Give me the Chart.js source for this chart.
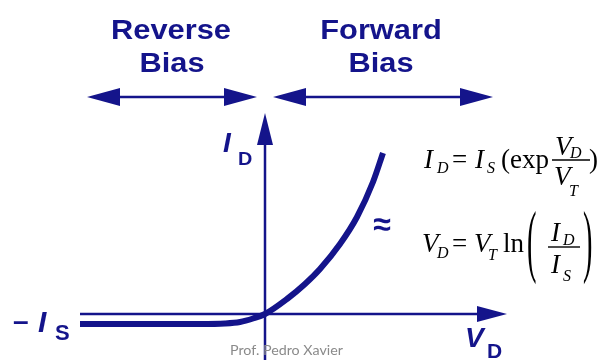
<!DOCTYPE html>
<html>
<head>
<meta charset="utf-8">
<title>Diode I-V characteristic</title>
<script src="https://cdn.jsdelivr.net/npm/chart.js@4.4.1/dist/chart.umd.min.js"></script>
<style>
  html, body { margin: 0; padding: 0; background: #fff; }
  canvas { display: block; }
</style>
</head>
<body>
<canvas id="diode-chart" width="600" height="360"></canvas>
<script>
// diode curve: V_D along x, I_D along y (arbitrary units)
const vD = [-1.85, -0.65, -0.40, -0.25, -0.12, 0, 0.22, 0.40, 0.55, 0.75, 0.92, 1.08, 1.18];
const iD = [-0.10, -0.10, -0.095, -0.08, -0.045, 0, 0.15, 0.30, 0.45, 0.70, 0.97, 1.32, 1.61];

// axis extents and the two bias-region arrows, in the same units
const vAxisRange = [-1.85, 2.42];
const iAxisRange = [-0.46, 2.01];
const biasLevel = 2.17;
const reverseRange = [-1.78, -0.08];
const forwardRange = [0.08, 2.28];

const BLUE = '#14148b';
const SANS = '"Liberation Sans", Arial, sans-serif';
const SERIF = '"Liberation Serif", "Times New Roman", serif';

function txt(ctx, s, x, y, font, opts = {}) {
  ctx.save();
  ctx.translate(x, y);
  ctx.scale(opts.sx || 1, opts.sy || 1);
  ctx.font = font;
  ctx.fillStyle = opts.color || BLUE;
  ctx.textAlign = opts.align || 'left';
  ctx.textBaseline = opts.baseline || 'alphabetic';
  ctx.fillText(s, 0, 0);
  ctx.restore();
}

function head(ctx, x, y, dx, dy, len, half) {
  // filled triangle pointing along (dx, dy) with its tip at (x, y)
  const px = -dy, py = dx;
  ctx.beginPath();
  ctx.moveTo(x, y);
  ctx.lineTo(x - dx * len + px * half, y - dy * len + py * half);
  ctx.lineTo(x - dx * len - px * half, y - dy * len - py * half);
  ctx.closePath();
  ctx.fill();
}

function arrow(ctx, x1, y1, x2, y2, both, len, half, lw) {
  const d = Math.hypot(x2 - x1, y2 - y1);
  const dx = (x2 - x1) / d, dy = (y2 - y1) / d;
  ctx.save();
  ctx.strokeStyle = BLUE;
  ctx.fillStyle = BLUE;
  ctx.lineWidth = lw;
  ctx.beginPath();
  ctx.moveTo(both ? x1 + dx * len * 0.8 : x1, both ? y1 + dy * len * 0.8 : y1);
  ctx.lineTo(x2 - dx * len * 0.8, y2 - dy * len * 0.8);
  ctx.stroke();
  head(ctx, x2, y2, dx, dy, len, half);
  if (both) head(ctx, x1, y1, -dx, -dy, len, half);
  ctx.restore();
}

function bigParen(ctx, ch, x, yTop, yBot) {
  // stretched serif bracket
  const h = yBot - yTop;
  const size = h / 0.9;
  ctx.save();
  ctx.translate(x, yBot - size * 0.2);
  ctx.scale(0.35, 1);
  ctx.font = size + 'px ' + SERIF;
  ctx.fillStyle = '#000';
  ctx.fillText(ch, 0, 0);
  ctx.restore();
}

function fracLine(ctx, x1, x2, y) {
  ctx.save();
  ctx.strokeStyle = '#000';
  ctx.lineWidth = 1.4;
  ctx.beginPath();
  ctx.moveTo(x1, y);
  ctx.lineTo(x2, y);
  ctx.stroke();
  ctx.restore();
}

const axesPlugin = {
  id: 'diodeAxes',
  beforeDatasetsDraw(chart) {
    const { ctx, scales: { x, y } } = chart;
    const x0 = x.getPixelForValue(0), y0 = y.getPixelForValue(0);
    // V_D axis
    arrow(ctx, x.getPixelForValue(vAxisRange[0]), y0, x.getPixelForValue(vAxisRange[1]), y0, false, 30, 8, 2.5);
    // I_D axis
    arrow(ctx, x0, y.getPixelForValue(iAxisRange[0]), x0, y.getPixelForValue(iAxisRange[1]), false, 32, 8, 2.5);
    // bias region arrows
    const yb = y.getPixelForValue(biasLevel);
    arrow(ctx, x.getPixelForValue(reverseRange[0]), yb, x.getPixelForValue(reverseRange[1]), yb, true, 33, 9, 2.5);
    arrow(ctx, x.getPixelForValue(forwardRange[0]), yb, x.getPixelForValue(forwardRange[1]), yb, true, 33, 9, 2.5);
  },
  afterDatasetsDraw(chart) {
    const ctx = chart.ctx;
    const big = 'bold 28px ' + SANS;
    txt(ctx, 'Reverse', 171, 39, big, { align: 'center', sx: 1.1 });
    txt(ctx, 'Bias', 172, 72, big, { align: 'center', sx: 1.1 });
    txt(ctx, 'Forward', 381, 39, big, { align: 'center', sx: 1.1 });
    txt(ctx, 'Bias', 381, 72, big, { align: 'center', sx: 1.1 });

    // axis labels
    txt(ctx, 'I', 223, 152, 'italic bold 28px ' + SANS);
    txt(ctx, 'D', 238, 165, 'bold 18px ' + SANS, { sx: 1.1 });
    txt(ctx, '–', 13, 330, 'bold 28px ' + SANS);
    txt(ctx, 'I', 38, 332, 'italic bold 30px ' + SANS);
    txt(ctx, 'S', 55, 340, 'bold 22px ' + SANS);
    txt(ctx, 'V', 465, 347, 'italic bold 28px ' + SANS);
    txt(ctx, 'D', 487, 358, 'bold 20px ' + SANS, { sx: 1.05 });
    txt(ctx, '≈', 382, 226, 'bold 32px ' + SANS, { align: 'center', baseline: 'middle' });

    // I_D = I_S (exp V_D / V_T)
    const it = 'italic 27px ' + SERIF, sub = 'italic 16px ' + SERIF, rm = '27px ' + SERIF;
    const k = { color: '#000' };
    txt(ctx, 'I', 424, 168, it, k);
    txt(ctx, 'D', 437, 173, sub, k);
    txt(ctx, '=', 452, 168, rm, k);
    txt(ctx, 'I', 475, 168, it, k);
    txt(ctx, 'S', 487, 173, sub, k);
    txt(ctx, '(exp', 501, 168, rm, k);
    fracLine(ctx, 552, 590, 160);
    txt(ctx, 'V', 555, 155, it, k);
    txt(ctx, 'D', 570, 158, sub, k);
    txt(ctx, 'V', 554, 185, it, k);
    txt(ctx, 'T', 569, 196, sub, k);
    txt(ctx, ')', 589, 168, rm, k);

    // V_D = V_T ln(I_D / I_S)
    txt(ctx, 'V', 422, 252, it, k);
    txt(ctx, 'D', 437, 258, sub, k);
    txt(ctx, '=', 452, 252, rm, k);
    txt(ctx, 'V', 474, 252, it, k);
    txt(ctx, 'T', 488, 260, sub, k);
    txt(ctx, 'ln', 503, 252, rm, k);
    bigParen(ctx, '(', 527, 210, 283);
    fracLine(ctx, 548, 580, 247);
    txt(ctx, 'I', 551, 241, it, k);
    txt(ctx, 'D', 563, 245, sub, k);
    txt(ctx, 'I', 551, 273, it, k);
    txt(ctx, 'S', 563, 281, sub, k);
    bigParen(ctx, ')', 583, 210, 283);

    // footer credit
    ctx.save();
    ctx.font = '14px Lato, "Open Sans", sans-serif';
    const w = ctx.measureText('Prof. Pedro Xavier').width;
    ctx.restore();
    txt(ctx, 'Prof. Pedro Xavier', 230, 355, '14px Lato, "Open Sans", sans-serif', { color: '#8a8a8a', sx: 113 / w });
  }
};

const ctx = document.getElementById('diode-chart').getContext('2d');
const chart = new Chart(ctx, {
  type: 'line',
  data: {
    datasets: [{
      data: vD.map((v, i) => ({ x: v, y: iD[i] })),
      borderColor: BLUE,
      borderWidth: 6,
      borderCapStyle: 'butt',
      pointRadius: 0,
      cubicInterpolationMode: 'monotone',
      fill: false
    }]
  },
  options: {
    responsive: false,
    animation: false,
    devicePixelRatio: 1,
    layout: { padding: 0 },
    plugins: { legend: { display: false }, tooltip: { enabled: false } },
    scales: {
      x: { type: 'linear', min: -2.65, max: 3.35, display: false },
      y: { type: 'linear', min: -0.46, max: 3.14, display: false }
    }
  },
  plugins: [axesPlugin]
});
</script>
</body>
</html>
